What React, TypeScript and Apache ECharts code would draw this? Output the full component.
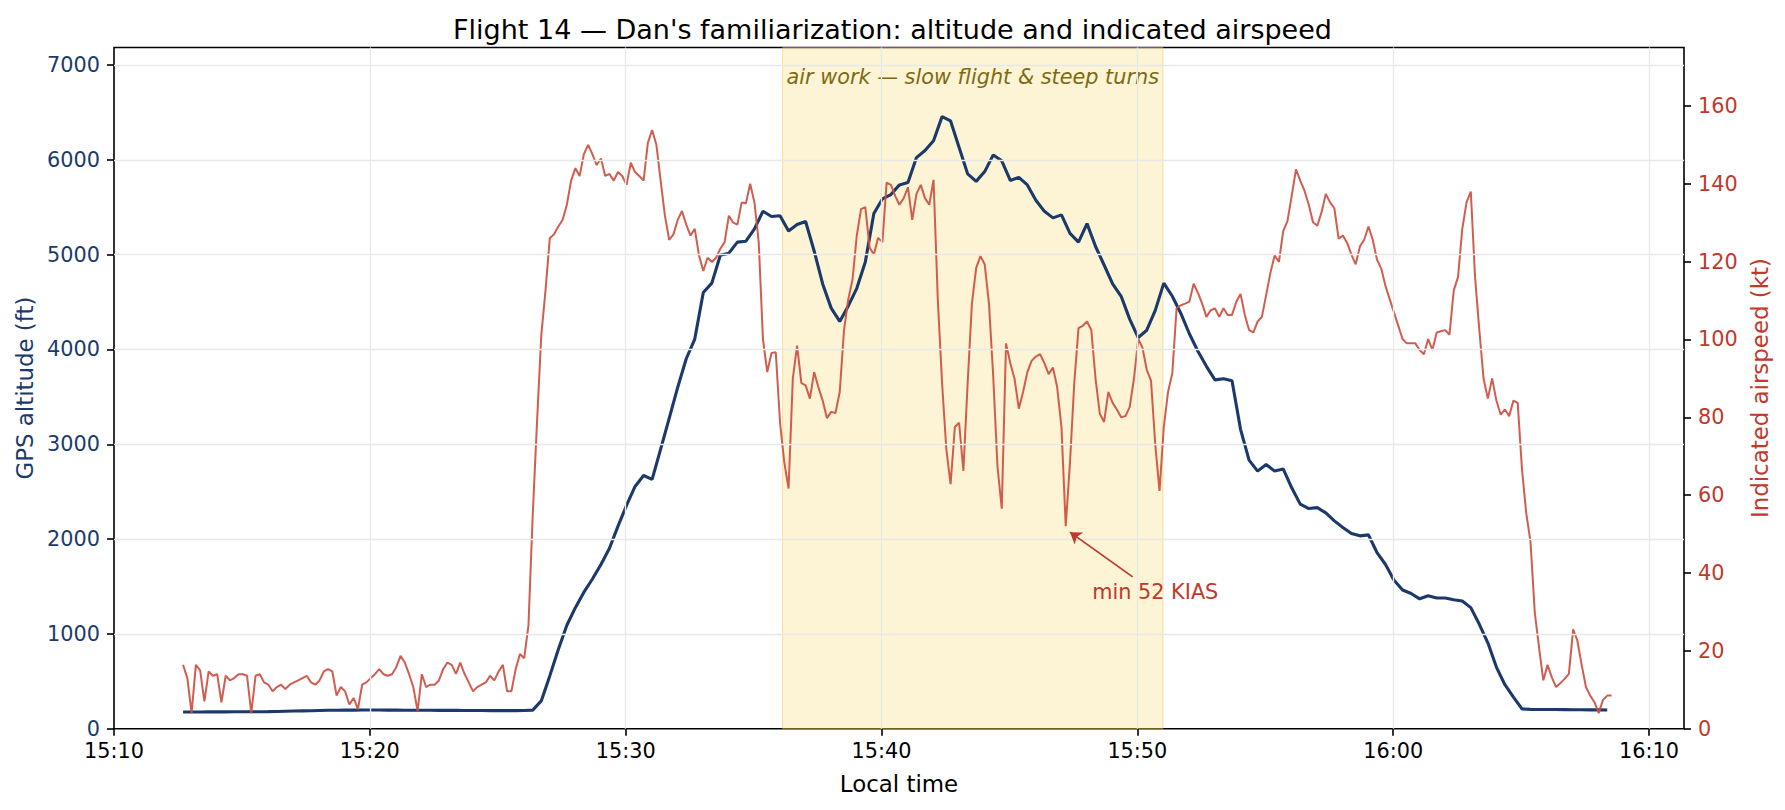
import React, { useEffect, useRef } from 'react';
import * as echarts from 'echarts';

// Flight 14 track
const TITLE = "Flight 14 — Dan's familiarization: altitude and indicated airspeed";
const AXIS_ORIGIN = '15:10:00';
const AXIS_END = '16:11:22';
const FIRST_SAMPLE = '15:12:42';
const IAS_STEP_S = 10;
const ALT_STEP_S = 20;

const X_TICK_LABELS = ['15:10', '15:20', '15:30', '15:40', '15:50', '16:00', '16:10'];
const ALT_TICKS = [0, 1000, 2000, 3000, 4000, 5000, 6000, 7000];
const IAS_TICKS = [0, 20, 40, 60, 80, 100, 120, 140, 160];
const ALT_MAX = 7185;
const IAS_MAX = 175;

// GPS altitude (ft), one sample every 20 s
const ALT_FT = [
  176, 176, 176, 177, 177, 177, 178, 178, 179, 179, 180,
  182, 184, 186, 188, 190, 192,
  194, 195, 196, 196, 197, 197, 197, 196, 196, 195, 195, 194, 194, 193, 193,
  193, 192, 192, 192, 191, 191, 191, 191, 192, 196,
  293, 557, 836, 1091, 1277, 1440, 1579, 1732, 1904, 2137, 2355, 2555, 2671, 2630, 2949, 3274, 3600, 3902, 4110, 4600,
  4700, 4993, 5016, 5132, 5142, 5272, 5458, 5402, 5411, 5250, 5318, 5350, 5039, 4691, 4436, 4296, 4459, 4645, 4923,
  5434, 5588, 5634, 5736, 5760, 6024, 6098, 6201, 6456, 6410, 6131, 5852,
  5773, 5876, 6052, 5990, 5783, 5815, 5736, 5574, 5457, 5388, 5420, 5225, 5132, 5327, 5086, 4891, 4691, 4561, 4320,
  4125, 4203, 4412, 4700, 4561, 4380, 4166, 3981, 3822, 3679, 3692,
  3669, 3158, 2833, 2717, 2787, 2717, 2740, 2541, 2369, 2322, 2332, 2276, 2192, 2123, 2058, 2034, 2044, 1858, 1732,
  1565, 1463, 1426, 1370, 1403, 1379, 1379, 1361, 1347, 1277, 1101, 906,
  650, 464, 334, 209, 204, 203, 202, 202, 201, 200, 200, 199, 199, 198,
];

// indicated airspeed (kt), one sample every 10 s
const IAS_KT = [
  16.4, 13, 4, 16.4, 15, 7, 14.7, 13.6, 14, 6.8,
  13.6, 12.4, 13, 14, 14, 13.6, 4, 13.6, 14, 11.9,
  11.3, 9.6, 10.7, 11.3, 10.2, 11.3, 11.9, 12.4, 13, 13.6,
  11.9, 11.3, 12.4, 14.7, 15.3, 14.7, 8.5, 10.7, 9.6, 6.2,
  7.9, 5, 11.3, 11.9, 13, 14, 15.3, 14, 13.6, 14,
  15.8, 18.7, 17, 14, 10.7, 4.5, 14, 10.7, 11.3, 11.3,
  12.4, 15.3, 17,
  16.4, 14.1, 17, 14.1, 11.9, 9.6, 10.7, 11.3, 11.9, 13.6,
  12.4, 14.7, 16.4, 9.6, 9.6, 15.3, 19.2, 18.1, 26.6, 54.9,
  78.6, 101, 112.6, 126, 127, 129, 130.7, 134.6, 140.8, 144,
  142, 147.6, 150, 147.6, 144.8, 146.5, 142, 142.5, 140.8, 143,
  142, 139.7, 145.4, 143, 142, 140.8, 150.5, 153.8, 150, 140.8,
  131.8, 125.6, 127, 130.7, 133, 129.5, 126.7, 128.4, 121.6, 117.6,
  121,
  119.9, 121, 123.3, 125, 131.8, 130, 129.5, 135.2, 135, 140,
  135.2, 125, 100, 91.6, 96.5, 96.7, 78.6, 68.4, 61.7, 90,
  98.4, 88.8, 88.2, 84.8, 91.6, 87.7, 84.3, 79.8, 81.4, 81.1,
  86.5, 102.4, 110.3, 115.4, 126.7, 133.5, 134, 123.6, 121.8, 126.1,
  125, 140.3, 139.7, 136.9, 134.6, 136.3, 139.1, 130.7, 137.4, 139.7,
  136.3, 134.6, 141, 110.3, 88.8, 71.8, 62.8, 77.5, 78.6, 66.2,
  88.8,
  109.2, 118.4, 121.4, 119.3, 109.2, 90.5, 67.3, 56.5, 99, 93.9,
  89.9, 82.2, 86.5, 91.6, 94.5, 95.6, 96.2, 93.9, 91.1, 92.8,
  87.7, 77.5, 52, 68.4, 88.8, 102.9, 103.5, 104.6, 102.4, 89.9,
  80.9, 78.8, 86.5, 83.7, 82, 80, 80.3, 82.6, 89.9, 100.1,
  97.9, 92.2, 89.4, 73, 61.1, 77.5, 86.5, 91.4, 108, 108.8,
  109.2, 109.7, 114.3, 112, 109.2, 105.8, 107.5, 108, 105.8, 108,
  106.3,
  106.3, 109.7, 111.7, 106.3, 102.4, 101.8, 104.6, 105.8, 111.4, 117.1,
  121.6, 119.9, 127.8, 130.4, 136.9, 143.7, 140.8, 138.2, 134.6, 130.1,
  129.2, 132.7, 137.4, 135.2, 133.7, 125.9, 126.7, 124.8, 121.8, 119.3,
  123.9, 125.6, 129, 125.6, 120.5, 118.2, 113.7, 110.3, 106.9, 103.5,
  100.1, 99, 99, 99, 97.3, 96.2, 100.1, 97.3, 101.8, 102.1,
  102.4, 101.2, 112.6, 116, 128.4, 135.2, 138, 116, 102.4, 89.9,
  84.8,
  90, 84.3, 80.7, 82, 80.3, 84.3, 83.7, 66.7, 55.4, 48,
  29.9, 20.9, 12.4, 16.4, 13.2, 10.7, 11.7, 12.8, 14.1, 25.5,
  22.6, 16.4, 10.7, 8.5, 6.8, 4, 7.4, 8.5, 8.5,
];

const AIRWORK_SPAN = ['15:36:08', '15:51:00'];
const AIRWORK_LABEL = 'air work — slow flight & steep turns';
const MIN_LABEL = 'min 52 KIAS';
const MIN_ARROW_TAIL: [string, number] = ['15:49:49', 39];
const MIN_ARROW_TIP: [string, number] = ['15:47:22', 50.5];
const MIN_LABEL_AT: [string, number] = ['15:50:42', 35];

const NAVY = '#1b3a6b';
const RED = '#c0392b';
const GRID = '#e8e8e8';
const FONT = 'DejaVu Sans';

const secs = (hms: string) => {
  const [h, m, s] = hms.split(':').map(Number);
  return h * 3600 + m * 60 + (s || 0);
};
// minutes since the axis origin
const toMin = (hms: string) => (secs(hms) - secs(AXIS_ORIGIN)) / 60;

const App: React.FC = () => {
  const chartRef = useRef<HTMLDivElement>(null);

  useEffect(() => {
    if (!chartRef.current) return;
    const chart = echarts.init(chartRef.current, undefined, { renderer: 'svg' });

    const t0 = toMin(FIRST_SAMPLE);
    const altData = ALT_FT.map((v, i) => [t0 + (i * ALT_STEP_S) / 60, v]);
    const iasData = IAS_KT.map((v, i) => [t0 + (i * IAS_STEP_S) / 60, v]);
    const xTicks = X_TICK_LABELS.map((l) => toMin(l + ':00'));

    const tick = { length: 7, lineStyle: { color: '#000', width: 1.6 } };
    const hidden = { showSymbol: false, symbol: 'none', silent: true, lineStyle: { opacity: 0 } };

    const option: any = {
      animation: false,
      backgroundColor: '#ffffff',
      textStyle: { fontFamily: FONT },
      title: {
        text: TITLE,
        left: 'center',
        top: 11,
        textStyle: { fontFamily: FONT, fontSize: 27, fontWeight: 'normal', color: '#000' },
      },
      grid: {
        left: 114,
        right: 101,
        top: 47.5,
        bottom: 81.3,
        show: true,
        borderColor: '#000',
        borderWidth: 1.6,
        backgroundColor: 'transparent',
      },
      xAxis: {
        type: 'value',
        min: 0,
        max: toMin(AXIS_END),
        interval: 10,
        name: 'Local time',
        nameLocation: 'middle',
        nameGap: 44,
        nameTextStyle: { fontFamily: FONT, fontSize: 22.9, color: '#000' },
        axisLine: { show: false },
        axisTick: { ...tick, customValues: xTicks },
        axisLabel: {
          fontFamily: FONT,
          fontSize: 20.8,
          color: '#000',
          margin: 12,
          customValues: xTicks,
          formatter: (v: number) => X_TICK_LABELS[Math.round(v / 10)] ?? '',
        },
        splitLine: { show: false },
      },
      yAxis: [
        {
          type: 'value',
          position: 'left',
          min: 0,
          max: ALT_MAX,
          interval: 1000,
          name: 'GPS altitude (ft)',
          nameLocation: 'middle',
          nameRotate: 90,
          nameGap: 77,
          nameTextStyle: { fontFamily: FONT, fontSize: 22.9, color: NAVY },
          axisLine: { show: false },
          axisTick: { ...tick, customValues: ALT_TICKS },
          axisLabel: {
            fontFamily: FONT,
            fontSize: 20.8,
            color: NAVY,
            margin: 14,
            customValues: ALT_TICKS,
            formatter: (v: number) => String(v),
          },
          splitLine: { show: false },
        },
        {
          type: 'value',
          position: 'right',
          min: 0,
          max: IAS_MAX,
          interval: 20,
          name: 'Indicated airspeed (kt)',
          nameLocation: 'middle',
          nameRotate: 90,
          nameGap: 59,
          nameTextStyle: { fontFamily: FONT, fontSize: 22.9, color: RED },
          axisLine: { show: false },
          axisTick: { ...tick, customValues: IAS_TICKS },
          axisLabel: {
            fontFamily: FONT,
            fontSize: 20.8,
            color: RED,
            margin: 14,
            customValues: IAS_TICKS,
            formatter: (v: number) => String(v),
          },
          splitLine: { show: false },
        },
      ],
      series: [
        {
          // grid lines, drawn as mark lines at the tick values
          type: 'line',
          yAxisIndex: 0,
          z: 1,
          data: altData,
          ...hidden,
          markLine: {
            silent: true,
            symbol: ['none', 'none'],
            label: { show: false },
            lineStyle: { color: GRID, width: 1.3, type: 'solid' },
            data: [
              ...xTicks.filter((v) => v > 0).map((v) => ({ xAxis: v })),
              ...ALT_TICKS.filter((v) => v > 0).map((v) => ({ yAxis: v })),
            ],
          },
        },
        {
          // shaded air-work band with its caption
          type: 'line',
          yAxisIndex: 0,
          z: 1.5,
          data: altData,
          ...hidden,
          markArea: {
            silent: true,
            itemStyle: {
              color: 'rgba(247, 206, 70, 0.22)',
              borderColor: 'rgba(240, 200, 60, 0.45)',
              borderWidth: 1,
            },
            label: {
              show: true,
              position: 'insideTop',
              distance: 19,
              formatter: AIRWORK_LABEL,
              fontFamily: FONT,
              fontStyle: 'italic',
              fontSize: 20.8,
              color: '#7d6a10',
            },
            data: [[{ xAxis: toMin(AIRWORK_SPAN[0]) }, { xAxis: toMin(AIRWORK_SPAN[1]) }]],
          },
        },
        {
          name: 'GPS altitude',
          type: 'line',
          yAxisIndex: 0,
          z: 2,
          data: altData,
          showSymbol: false,
          symbol: 'none',
          lineStyle: { color: NAVY, width: 3.1 },
        },
        {
          name: 'Indicated airspeed',
          type: 'line',
          yAxisIndex: 1,
          z: 3,
          data: iasData,
          showSymbol: false,
          symbol: 'none',
          lineStyle: { color: '#cc4f40', width: 2, opacity: 0.92 },
          markLine: {
            silent: true,
            symbol: ['none', 'arrow'],
            symbolSize: 11,
            lineStyle: { color: RED, width: 1.8, type: 'solid' },
            label: { show: false },
            data: [
              [
                { coord: [toMin(MIN_ARROW_TAIL[0]), MIN_ARROW_TAIL[1]] },
                { coord: [toMin(MIN_ARROW_TIP[0]), MIN_ARROW_TIP[1]] },
              ],
            ],
          },
          markPoint: {
            silent: true,
            symbol: 'circle',
            symbolSize: 0,
            label: {
              show: true,
              position: 'inside',
              formatter: MIN_LABEL,
              fontFamily: FONT,
              fontSize: 20.8,
              color: RED,
            },
            data: [{ coord: [toMin(MIN_LABEL_AT[0]), MIN_LABEL_AT[1]] }],
          },
        },
      ],
    };

    chart.setOption(option);
    return () => {
      chart.dispose();
    };
  }, []);

  return (
    <div
      ref={chartRef}
      style={{ position: 'fixed', left: 0, top: 0, width: '1785px', height: '810px', background: '#fff' }}
    />
  );
};

export default App;
